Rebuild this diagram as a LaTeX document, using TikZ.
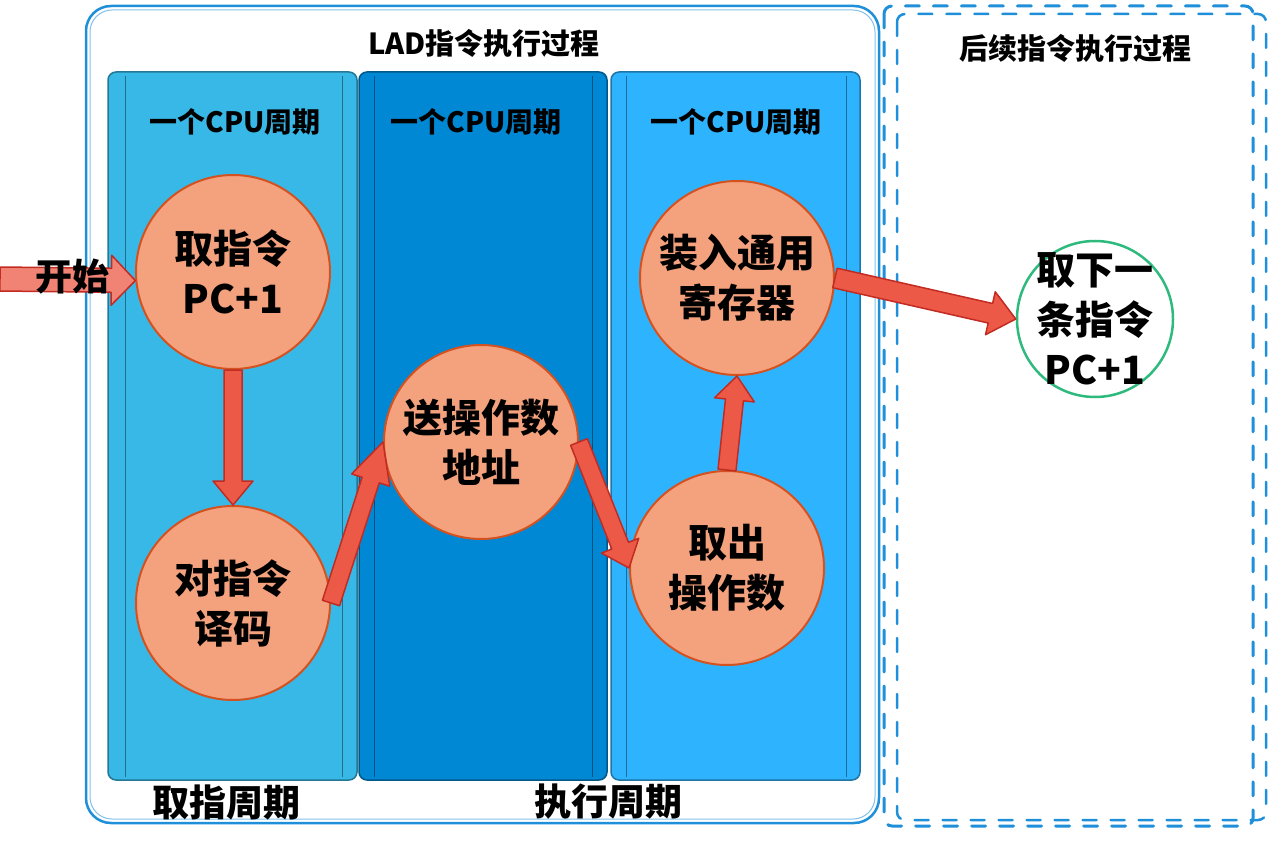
\documentclass[tikz,border=0pt]{standalone}
\usepackage{fontspec}
\newfontfamily\cjk{Noto Sans CJK SC}
\usetikzlibrary{calc, positioning}

\definecolor{frameblue}{HTML}{1E8FD8}
\definecolor{colA}{HTML}{38B8E6}
\definecolor{colB}{HTML}{0088D4}
\definecolor{colC}{HTML}{2EB4FF}
\definecolor{salmon}{HTML}{F4A27E}
\definecolor{rimorange}{HTML}{D4521F}
\definecolor{arrowred}{HTML}{EC5A47}
\definecolor{arrowrim}{HTML}{C22B22}
\definecolor{rimgreen}{HTML}{2DBA7C}

\tikzset{
  fat arrow/.style n args={3}{to path={
      ($(\tikztostart)!#1!90:(\tikztotarget)$)
      -- ($($(\tikztotarget)!#3!(\tikztostart)$)!#1!90:(\tikztotarget)$)
      -- ($($(\tikztotarget)!#3!(\tikztostart)$)!#2!90:(\tikztotarget)$)
      -- (\tikztotarget)
      -- ($($(\tikztotarget)!#3!(\tikztostart)$)!#2!-90:(\tikztotarget)$)
      -- ($($(\tikztotarget)!#3!(\tikztostart)$)!#1!-90:(\tikztotarget)$)
      -- ($(\tikztostart)!#1!-90:(\tikztotarget)$)
      -- cycle}},
  redarrow/.style={draw=arrowrim, fill=arrowred, line width=1.5pt, line join=round},
  colbox/.style={line width=1.5pt, rounded corners=8pt},
  stagetext/.style={align=center, font=\cjk\bfseries\fontsize{39}{50}\selectfont},
  stage/.style={circle, draw=rimorange, line width=2pt, fill=salmon, minimum size=194pt, inner sep=0pt, stagetext},
  title/.style={font=\cjk\bfseries\fontsize{29}{32}\selectfont},
  cpulabel/.style={font=\cjk\bfseries\fontsize{28}{32}\selectfont},
  phase/.style={font=\cjk\bfseries\fontsize{37}{40}\selectfont},
  dashbox/.style={frameblue, line width=3pt, dash pattern=on 14pt off 14pt, line cap=round, rounded corners=8pt}
}

\begin{document}
\begin{tikzpicture}[x=1pt, y=-1pt]
\useasboundingbox (0,0) rectangle (1270,848);
% frames
\draw[frameblue, line width=2.5pt, rounded corners=25pt] (86,6) rectangle (879,823);
\draw[frameblue!55, line width=1pt, rounded corners=22pt] (90,10) rectangle (875,819);
\draw[dashbox] (884,6) rectangle (1253,826);
\draw[dashbox, line width=2.5pt] (897,14) rectangle (1266,820);
% cpu cycles
\draw[colbox, fill=colA, draw=colA!65!black] (108,72) rectangle (357,780);
\draw[colA!60!black] (125,76) -- (125,777) (342,76) -- (342,777);
\draw[colbox, fill=colB, draw=colB!65!black] (359,72) rectangle (607,780);
\draw[colB!60!black] (374,76) -- (374,777) (592,76) -- (592,777);
\draw[colbox, fill=colC, draw=colC!65!black] (611,72) rectangle (860,780);
\draw[colC!60!black] (626,76) -- (626,777) (846,76) -- (846,777);

\node[title] (lad) at (484,43) {LAD指令执行过程};
\node[title] (next) at (1075,48) {后续指令执行过程};
\node[cpulabel] (cpuA) at (235,122) {一个CPU周期};
\node[cpulabel] (cpuB) at (476,122) {一个CPU周期};
\node[cpulabel] (cpuC) at (736,122) {一个CPU周期};
\node[phase] (fetch) at (226,802) {取指周期};
\node[phase] (exec) at (608,802) {执行周期};

% stages
\node[stage] (q1) at (233,272) {取指令\\PC+1};
\node[stage] (q2) at (233,603) {对指令\\译码};
\node[stage] (q3) at (481,442) {送操作数\\地址};
\node[stage] (q4) at (727,568) {取出\\操作数};
\node[stage] (q5) at (737,278) {装入通用\\寄存器};
\node[stage, fill=white, draw=rimgreen, line width=2.5pt, minimum size=156pt,
      label={[stagetext]center:取下一\\条指令\\PC+1}] (q6) at (1095,319) {};

% flow
\coordinate (start) at (0,279);
\draw[redarrow, fill=arrowred!75!white] (start) to[fat arrow={12pt}{25pt}{24pt}] (q1.185);
\node[phase] (go) at (72,277) {开始};
\draw[redarrow] (q1.south) to[fat arrow={9pt}{20pt}{24pt}] (q2.north);
\draw[redarrow] (q2.east) to[fat arrow={9pt}{20pt}{40pt}] (q3.west);
\draw[redarrow] (q3.east) to[fat arrow={9pt}{20pt}{24pt}] (q4.west);
\draw[redarrow] (q4.north) to[fat arrow={9pt}{20pt}{24pt}] (q5.south);
\draw[redarrow] (q5.east) to[fat arrow={10pt}{22pt}{26pt}] (q6.west);
\end{tikzpicture}
\end{document}
